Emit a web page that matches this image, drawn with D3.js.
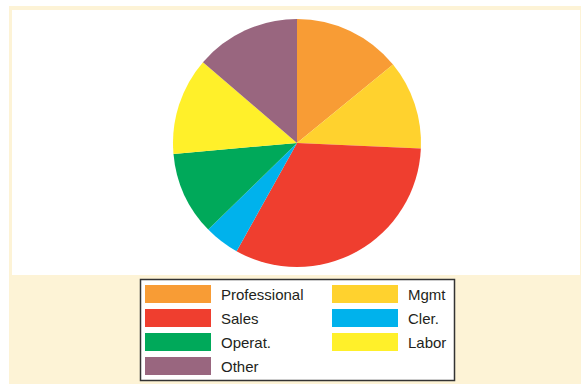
<!DOCTYPE html>
<html>
<head>
<meta charset="utf-8">
<script src="https://cdn.jsdelivr.net/npm/d3@7"></script>
<style>
  body { margin: 0; background: #fff; }
  svg { display: block; }
</style>
</head>
<body>
<div id="chart"></div>
<script>
const categories = ["Professional", "Mgmt", "Sales", "Cler.", "Operat.", "Labor", "Other"];
const shares = [14.1, 11.6, 32.4, 4.6, 10.9, 12.7, 13.7];
const colors = ["#f89c35", "#ffd22e", "#ef3e2f", "#00b2ec", "#00a95a", "#fff02a", "#99667f"];
// legend is laid out in two columns, read top to bottom
const legendLeft = ["Professional", "Sales", "Operat.", "Other"];
const legendRight = ["Mgmt", "Cler.", "Labor"];

const width = 581, height = 385;
const cx = 297, cy = 143, radius = 124;

const svg = d3.select("#chart")
  .append("svg")
  .attr("width", width)
  .attr("height", height);

// cream frame and white plot panel
svg.append("rect")
  .attr("x", 9).attr("y", 6)
  .attr("width", width - 9).attr("height", 378)
  .attr("fill", "#fdf3d6");

svg.append("rect")
  .attr("x", 12).attr("y", 10)
  .attr("width", width - 13).attr("height", 265)
  .attr("fill", "#ffffff");

const color = d3.scaleOrdinal().domain(categories).range(colors);

const pie = d3.pie()
  .sort(null)
  .value(d => d.value);

const arc = d3.arc()
  .innerRadius(0)
  .outerRadius(radius);

const data = categories.map((c, i) => ({ name: c, value: shares[i] }));

svg.append("g")
  .attr("transform", `translate(${cx},${cy})`)
  .selectAll("path")
  .data(pie(data))
  .join("path")
  .attr("d", arc)
  .attr("fill", d => color(d.data.name));

// legend
const legend = svg.append("g");

legend.append("rect")
  .attr("x", 140.5).attr("y", 279.5)
  .attr("width", 314).attr("height", 101)
  .attr("fill", "#ffffff")
  .attr("stroke", "#333")
  .attr("stroke-width", 1.5);

const rowY = d3.scalePoint()
  .domain(d3.range(4))
  .range([285, 357]);

function legendColumn(items, swatchX, textX) {
  const g = legend.selectAll(null)
    .data(items)
    .join("g");

  g.append("rect")
    .attr("x", swatchX)
    .attr("y", (d, i) => rowY(i))
    .attr("width", 66)
    .attr("height", 18)
    .attr("fill", d => color(d));

  g.append("text")
    .attr("x", textX)
    .attr("y", (d, i) => rowY(i) + 14.5)
    .attr("font-family", "Liberation Sans, Arial, sans-serif")
    .attr("font-size", 15)
    .attr("fill", "#231f20")
    .text(d => d);
}

legendColumn(legendLeft, 145, 221);
legendColumn(legendRight, 332, 408);
</script>
</body>
</html>
